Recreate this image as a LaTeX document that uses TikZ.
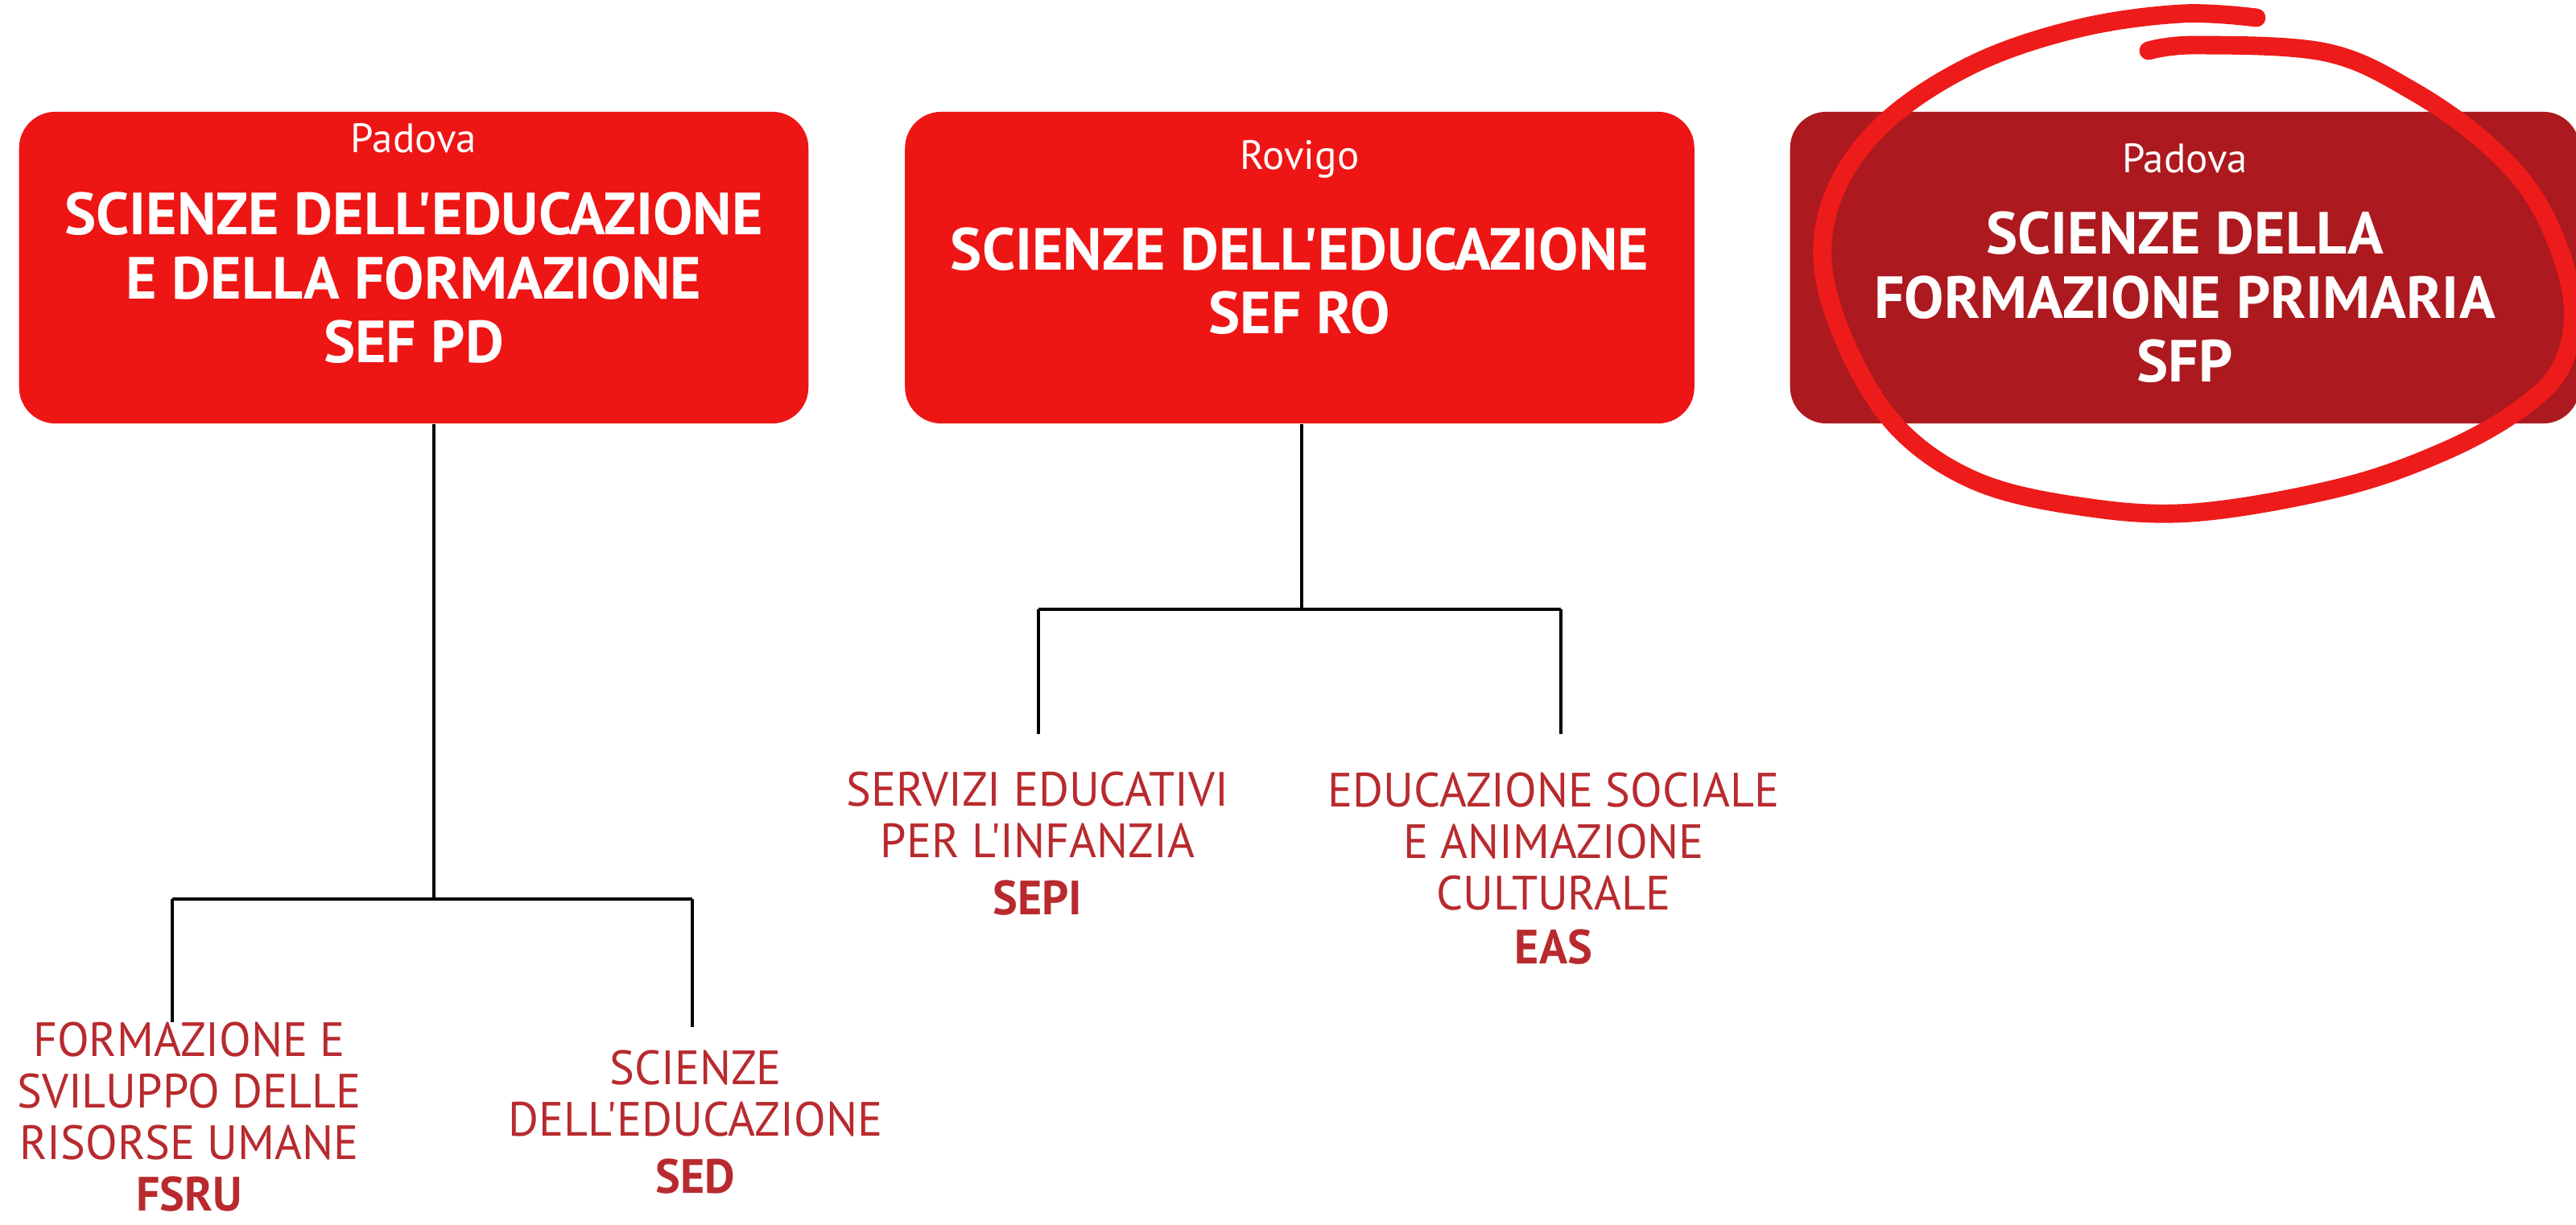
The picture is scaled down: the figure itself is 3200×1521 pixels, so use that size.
\documentclass[tikz,border=0pt]{standalone}
\usepackage{fontspec}
\setmainfont{PT Sans}[Ligatures=TeXOff]
\newfontfamily\titlefont{PT Sans}[Ligatures=TeXOff]
\newfontfamily\subfont{PT Sans}[Ligatures=TeXOff,FakeStretch=0.97]
\definecolor{boxred}{HTML}{EE1515}
\definecolor{boxdark}{HTML}{AC191E}
\definecolor{subred}{HTML}{B82A2E}
\definecolor{ring}{HTML}{EE1B1B}

\begin{document}
\begin{tikzpicture}[x=0.01cm,y=-0.01cm,
  corso/.style={fill=boxred,rounded corners=0.45cm,minimum width=9.8cm,minimum height=3.87cm,inner sep=0pt},
  city/.style={text=white,font=\fontsize{14.5}{16}\selectfont},
  titolo/.style={text=white,align=center,font=\titlefont\bfseries\fontsize{21}{22.6}\selectfont},
  sub/.style={text=subred,align=center,inner sep=0.5pt,font=\subfont\fontsize{17}{18.2}\selectfont},
  ramo/.style={line width=0.9pt},
  barra/.style={line width=1.4pt}]
  \useasboundingbox (0,0) rectangle (3200,1521);
  % Corsi di laurea
  \node[corso] (sefpd) at (514,332.5) {};
  \node[corso] (sefro) at (1614.5,332.5) {};
  \node[corso,fill=boxdark] (sfp) at (2714,332.5) {};
  % Sedi e titoli
  \node[city] (sefpd-city) at (514,172) {Padova};
  \node[titolo] (sefpd-title) at (514,345.5) {SCIENZE DELL'EDUCAZIONE\\E DELLA FORMAZIONE\\SEF PD};
  \node[city] (sefro-city) at (1614.5,198) {Rovigo};
  \node[titolo] (sefro-title) at (1614.5,349) {SCIENZE DELL'EDUCAZIONE\\SEF RO};
  \node[city] (sfp-city) at (2714,197) {Padova};
  \node[titolo] (sfp-title) at (2714,369.5) {SCIENZE DELLA\\FORMAZIONE PRIMARIA\\SFP};
  % Curricula
  \node[sub] (fsru) at (235,1388) {FORMAZIONE E\\SVILUPPO DELLE\\RISORSE UMANE\\\textbf{FSRU}};
  \node[sub] (sed) at (864,1394) {SCIENZE\\DELL'EDUCAZIONE\\[2pt]\textbf{SED}};
  \node[sub] (sepi) at (1289,1048.5) {SERVIZI EDUCATIVI\\PER L'INFANZIA\\[2pt]\textbf{SEPI}};
  \node[sub] (eas) at (1930,1079) {EDUCAZIONE SOCIALE\\E ANIMAZIONE\\CULTURALE\\[1pt]\textbf{EAS}};
  % Giunzioni
  \coordinate (sefpd-j) at (539,1117);
  \coordinate (fsru-top) at (214,1270);
  \coordinate (sed-top) at (860,1276);
  \coordinate (sefro-j) at (1617,757);
  \coordinate (sepi-top) at (1290,912);
  \coordinate (eas-top) at (1939,912);
  % Rami SEF PD
  \draw[ramo] (sefpd.south -| sefpd-j) -- (sefpd-j);
  \draw[barra] (fsru-top |- sefpd-j) -- (sed-top |- sefpd-j);
  \draw[ramo] (fsru-top |- sefpd-j) -- (fsru-top);
  \draw[ramo] (sed-top |- sefpd-j) -- (sed-top);
  % Rami SEF RO
  \draw[ramo] (sefro.south -| sefro-j) -- (sefro-j);
  \draw[barra] (sepi-top |- sefro-j) -- (eas-top |- sefro-j);
  \draw[ramo] (sepi-top |- sefro-j) -- (sepi-top);
  \draw[ramo] (eas-top |- sefro-j) -- (eas-top);
  % Cerchio a mano
  \draw[ring,line width=6.5pt,line cap=round,line join=round] plot[smooth,tension=0.6] coordinates {
    (2669,63) (2729,56) (2889,65) (2997,113) (3093,182) (3157,260) (3195,369)
    (3182,455) (3125,512) (3029,564) (2902,607) (2723,637) (2583,629) (2455,598)
    (2359,533) (2296,434) (2264,325) (2283,230) (2347,147) (2455,78) (2583,35)
    (2710,17) (2803,22)};
\end{tikzpicture}
\end{document}
